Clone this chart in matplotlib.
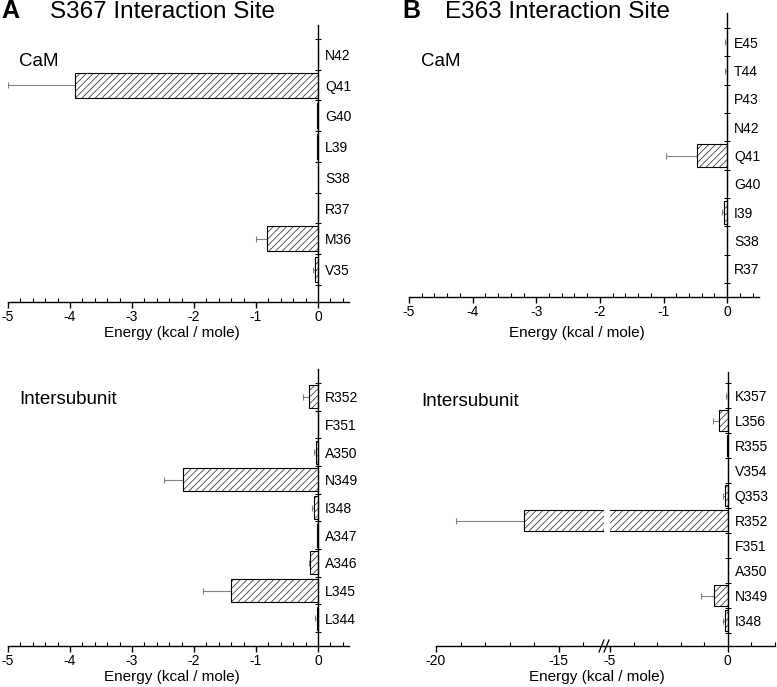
import numpy as np
import matplotlib
matplotlib.use("Agg")
import matplotlib.pyplot as plt
from matplotlib.ticker import MultipleLocator, FixedLocator
from matplotlib.lines import Line2D

plt.rcParams["font.family"] = ["Liberation Sans", "DejaVu Sans"]
plt.rcParams["axes.unicode_minus"] = False
plt.rcParams["hatch.linewidth"] = 0.55

# --- data (bottom to top) ---
a_cam_res = ["V35", "M36", "R37", "S38", "L39", "G40", "Q41", "N42"]
a_cam_val = [-0.05, -0.82, 0.0, 0.0, -0.02, -0.02, -3.92, 0.0]
a_cam_err = [0.03, 0.18, 0.0, 0.0, 0.0, 0.0, 1.08, 0.0]

a_sub_res = ["L344", "L345", "A346", "A347", "I348", "N349", "A350", "F351", "R352"]
a_sub_val = [-0.01, -1.41, -0.13, -0.02, -0.06, -2.18, -0.04, 0.0, -0.14]
a_sub_err = [0.04, 0.45, 0.02, 0.0, 0.03, 0.30, 0.02, 0.0, 0.10]

b_cam_res = ["R37", "S38", "I39", "G40", "Q41", "N42", "P43", "T44", "E45"]
b_cam_val = [0.0, 0.0, -0.05, -0.01, -0.47, 0.0, -0.01, 0.0, 0.0]
b_cam_err = [0.0, 0.0, 0.03, 0.0, 0.49, 0.0, 0.0, 0.04, 0.04]

b_sub_res = ["I348", "N349", "A350", "F351", "R352", "Q353", "V354", "R355", "L356", "K357"]
b_sub_val = [-0.13, -0.59, 0.0, 0.0, -16.4, -0.13, 0.0, -0.03, -0.38, 0.0]
b_sub_err = [0.07, 0.55, 0.0, 0.0, 2.8, 0.07, 0.0, 0.0, 0.26, 0.1]

W, H = 777, 687
fig = plt.figure(figsize=(W / 100, H / 100), dpi=100)


def px_axes(x0, y0, x1, y1):
    return fig.add_axes([x0 / W, 1 - y1 / H, (x1 - x0) / W, (y1 - y0) / H])


def draw_bars(ax, vals, errs):
    y = np.arange(len(vals))
    vals = np.array(vals)
    errs = np.array(errs)
    ax.barh(y, vals, height=0.82, color="white", edgecolor="#333333",
            linewidth=0, hatch="/////", zorder=2)
    ax.barh(y, vals, height=0.82, fill=False, edgecolor="black",
            linewidth=0.8, zorder=3)
    m = errs > 0
    ax.errorbar(vals[m], y[m], xerr=[errs[m], np.zeros(m.sum())], fmt="none",
                ecolor="#808080", elinewidth=0.8, capsize=2.5, capthick=0.8,
                zorder=1)


def setup_x(ax, lo, hi, major, minor):
    ax.set_xlim(lo, hi)
    ax.xaxis.set_major_locator(FixedLocator(major))
    ax.xaxis.set_minor_locator(MultipleLocator(minor))
    ax.tick_params(axis="x", which="major", direction="out", length=4,
                   width=1, labelsize=10, pad=2)
    ax.tick_params(axis="x", which="minor", direction="in", length=3, width=0.8)
    ax.spines["bottom"].set_linewidth(1)
    ax.spines["top"].set_visible(False)
    ax.spines["left"].set_visible(False)


def setup_y(ax, labels, ylim):
    n = len(labels)
    ax.set_ylim(*ylim)
    ax.spines["right"].set_position(("data", 0))
    ax.spines["right"].set_linewidth(1)
    ax.yaxis.set_ticks_position("right")
    ax.set_yticks(np.arange(n))
    ax.set_yticklabels(labels)
    ax.set_yticks(np.arange(n + 1) - 0.5, minor=True)
    ax.tick_params(axis="y", which="major", length=0, pad=5, labelsize=10)
    ax.tick_params(axis="y", which="minor", direction="inout", length=5, width=0.8)


def xlabel(ax, y_px, x_frac=0.48):
    ax.set_xlabel("Energy (kcal / mole)", fontsize=11)
    bb = ax.get_position()
    ypos = -(y_px - (1 - bb.y0) * H) / (bb.height * H)
    ax.xaxis.set_label_coords(x_frac, ypos)
    ax.xaxis.label.set_va("center")


# --- A: S367 ---
ax = px_axes(8, 25, 349, 302)
draw_bars(ax, a_cam_val, a_cam_err)
setup_x(ax, -5, 0.5, [-5, -4, -3, -2, -1, 0], 0.2)
setup_y(ax, a_cam_res, (-1.053, 7.955))
xlabel(ax, 333)

ax = px_axes(8, 369, 349, 646)
draw_bars(ax, a_sub_val, a_sub_err)
setup_x(ax, -5, 0.5, [-5, -4, -3, -2, -1, 0], 0.2)
setup_y(ax, a_sub_res, (-1.006, 9.006))
xlabel(ax, 677)

# --- B: E363 ---
ax = px_axes(409, 13, 759, 297)
draw_bars(ax, b_cam_val, b_cam_err)
setup_x(ax, -5, 0.5, [-5, -4, -3, -2, -1, 0], 0.2)
setup_y(ax, b_cam_res, (-0.994, 9.03))
xlabel(ax, 333)

# broken axis
ax_l = px_axes(436, 372, 604, 646)
ax_r = px_axes(610, 372, 775, 646)
draw_bars(ax_l, b_sub_val, b_sub_err)
draw_bars(ax_r, b_sub_val, b_sub_err)
setup_x(ax_l, -20, -13.15, [-20, -15], 1)
setup_x(ax_r, -5, 2, [-5, 0], 1)
ax_l.spines["right"].set_visible(False)
ax_l.set_ylim(-1.02, 9.94)
ax_l.set_yticks([])
setup_y(ax_r, b_sub_res, (-1.02, 9.94))
fig.text(597 / W, 1 - 677 / H, "Energy (kcal / mole)", fontsize=11,
         ha="center", va="center")

# axis line through the gap and break marks
yb = 1 - 646 / H
fig.add_artist(Line2D([604 / W, 610 / W], [yb, yb], color="black", lw=1))
for xb in (601, 606):
    fig.add_artist(Line2D([(xb - 2) / W, (xb + 3) / W],
                          [1 - 652 / H, 1 - 640 / H], color="black", lw=0.9))

# panel letters, titles, region labels
fig.text(1 / W, 1 - 18.5 / H, "A", fontsize=18, fontweight="bold", va="baseline")
fig.text(50 / W, 1 - 18.5 / H, "S367 Interaction Site", fontsize=17.5, va="baseline")
fig.text(402 / W, 1 - 18.5 / H, "B", fontsize=18, fontweight="bold", va="baseline")
fig.text(445 / W, 1 - 18.5 / H, "E363 Interaction Site", fontsize=17.5, va="baseline")

fig.text(19 / W, 1 - 61 / H, "CaM", fontsize=13.5, va="center")
fig.text(19 / W, 1 - 400 / H, "Intersubunit", fontsize=13.5, va="center")
fig.text(421 / W, 1 - 62 / H, "CaM", fontsize=13.5, va="center")
fig.text(421 / W, 1 - 401 / H, "Intersubunit", fontsize=13.5, va="center")

fig.savefig("out.png", dpi=100)
